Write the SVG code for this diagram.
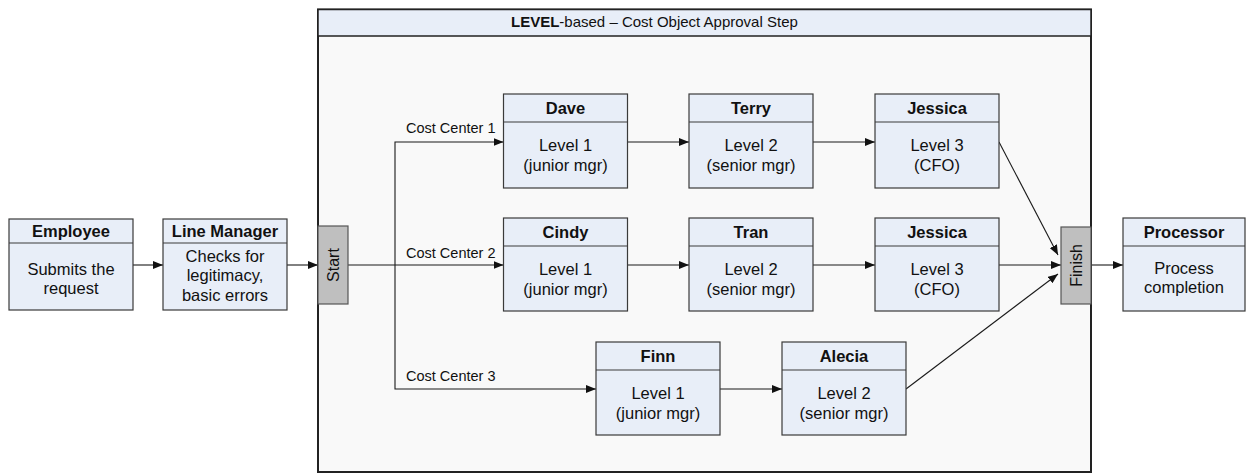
<svg xmlns="http://www.w3.org/2000/svg" width="1246" height="474" viewBox="0 0 1246 474">
<style>
text{font-family:"Liberation Sans",Arial,sans-serif;fill:#111}
.box{fill:#e8eef8;stroke:#3a3a3a;stroke-width:1.2}
.hd{stroke:#3a3a3a;stroke-width:1.2}
.nm{font-size:16.5px;font-weight:bold;text-anchor:middle}
.bd{font-size:16.5px;text-anchor:middle}
.gate{fill:#bfbfbf;stroke:#555;stroke-width:1.2}
.gt{font-size:16px;text-anchor:middle}
.cc{font-size:14.5px}
.ln{fill:none;stroke:#1a1a1a;stroke-width:1.1}
.ar{marker-end:url(#ah)}
</style>
<defs>
<marker id="ah" markerUnits="userSpaceOnUse" markerWidth="10" markerHeight="8" refX="10" refY="4" orient="auto">
<path d="M0,0 L10,4 L0,8 Z" fill="#111"/>
</marker>
</defs>
<rect width="1246" height="474" fill="#fff"/>
<g id="container">
<rect x="318" y="9.5" width="773" height="462.5" fill="#f9f9f9" stroke="#222" stroke-width="2"/>
<rect x="318" y="9.5" width="773" height="26.5" fill="#e8eef8" stroke="#222" stroke-width="1.5"/>
<text x="511" y="27" font-size="15px"><tspan font-weight="bold">LEVEL</tspan>-based – Cost Object Approval Step</text>
</g>
<g id="connectors">
<line class="ln ar" x1="133" y1="265" x2="163" y2="265"/>
<line class="ln ar" x1="287" y1="265" x2="318" y2="265"/>
<line class="ln ar" x1="348" y1="265" x2="503.5" y2="265"/>
<polyline class="ln ar" points="395,265 395,142 503.5,142"/>
<polyline class="ln ar" points="395,265 395,389 596,389"/>
<line class="ln ar" x1="627.5" y1="142" x2="689" y2="142"/>
<line class="ln ar" x1="813" y1="142" x2="875" y2="142"/>
<line class="ln ar" x1="627.5" y1="265" x2="689" y2="265"/>
<line class="ln ar" x1="813" y1="265" x2="875" y2="265"/>
<line class="ln ar" x1="720" y1="389" x2="782" y2="389"/>
<line class="ln ar" x1="999" y1="142" x2="1058" y2="255"/>
<line class="ln ar" x1="999" y1="265" x2="1061" y2="265"/>
<line class="ln ar" x1="906" y1="389" x2="1058" y2="274"/>
<line class="ln ar" x1="1091" y1="265" x2="1123" y2="265"/>
<text class="cc" x="406" y="133">Cost Center 1</text>
<text class="cc" x="406" y="258">Cost Center 2</text>
<text class="cc" x="406" y="381">Cost Center 3</text>
</g>
<g id="employee">
<rect class="box" x="9" y="219" width="124" height="91"/>
<line class="hd" x1="9" y1="243" x2="133" y2="243"/>
<text class="nm" x="71" y="237">Employee</text>
<text class="bd" x="71" y="275">Submits the</text>
<text class="bd" x="71" y="294">request</text>
</g>
<g id="line-manager">
<rect class="box" x="163" y="219" width="124" height="91"/>
<line class="hd" x1="163" y1="243" x2="287" y2="243"/>
<text class="nm" x="225" y="237">Line Manager</text>
<text class="bd" x="225" y="262">Checks for</text>
<text class="bd" x="225" y="281">legitimacy,</text>
<text class="bd" x="225" y="300.5">basic errors</text>
</g>
<g id="start">
<rect class="gate" x="318" y="226" width="30" height="78"/>
<text class="gt" transform="translate(339,265) rotate(-90)">Start</text>
</g>
<g id="finish">
<rect class="gate" x="1061" y="227" width="30" height="77"/>
<text class="gt" transform="translate(1082,265.5) rotate(-90)">Finish</text>
</g>
<g id="dave">
<rect class="box" x="503.5" y="94" width="124" height="94"/>
<line class="hd" x1="503.5" y1="122" x2="627.5" y2="122"/>
<text class="nm" x="565.5" y="114">Dave</text>
<text class="bd" x="565.5" y="151">Level 1</text>
<text class="bd" x="565.5" y="171">(junior mgr)</text>
</g>
<g id="terry">
<rect class="box" x="689" y="94" width="124" height="94"/>
<line class="hd" x1="689" y1="122" x2="813" y2="122"/>
<text class="nm" x="751" y="114">Terry</text>
<text class="bd" x="751" y="151">Level 2</text>
<text class="bd" x="751" y="171">(senior mgr)</text>
</g>
<g id="jessica-1">
<rect class="box" x="875" y="94" width="124" height="94"/>
<line class="hd" x1="875" y1="122" x2="999" y2="122"/>
<text class="nm" x="937" y="114">Jessica</text>
<text class="bd" x="937" y="151">Level 3</text>
<text class="bd" x="937" y="171">(CFO)</text>
</g>
<g id="cindy">
<rect class="box" x="503.5" y="218" width="124" height="93"/>
<line class="hd" x1="503.5" y1="246" x2="627.5" y2="246"/>
<text class="nm" x="565.5" y="238">Cindy</text>
<text class="bd" x="565.5" y="275">Level 1</text>
<text class="bd" x="565.5" y="295">(junior mgr)</text>
</g>
<g id="tran">
<rect class="box" x="689" y="218" width="124" height="93"/>
<line class="hd" x1="689" y1="246" x2="813" y2="246"/>
<text class="nm" x="751" y="238">Tran</text>
<text class="bd" x="751" y="275">Level 2</text>
<text class="bd" x="751" y="295">(senior mgr)</text>
</g>
<g id="jessica-2">
<rect class="box" x="875" y="218" width="124" height="93"/>
<line class="hd" x1="875" y1="246" x2="999" y2="246"/>
<text class="nm" x="937" y="238">Jessica</text>
<text class="bd" x="937" y="275">Level 3</text>
<text class="bd" x="937" y="295">(CFO)</text>
</g>
<g id="finn">
<rect class="box" x="596" y="342" width="124" height="93"/>
<line class="hd" x1="596" y1="370" x2="720" y2="370"/>
<text class="nm" x="658" y="362">Finn</text>
<text class="bd" x="658" y="399">Level 1</text>
<text class="bd" x="658" y="419">(junior mgr)</text>
</g>
<g id="alecia">
<rect class="box" x="782" y="342" width="124" height="93"/>
<line class="hd" x1="782" y1="370" x2="906" y2="370"/>
<text class="nm" x="844" y="362">Alecia</text>
<text class="bd" x="844" y="399">Level 2</text>
<text class="bd" x="844" y="419">(senior mgr)</text>
</g>
<g id="processor">
<rect class="box" x="1123" y="218" width="122" height="93"/>
<line class="hd" x1="1123" y1="246" x2="1245" y2="246"/>
<text class="nm" x="1184" y="238">Processor</text>
<text class="bd" x="1184" y="274">Process</text>
<text class="bd" x="1184" y="293">completion</text>
</g>
</svg>
